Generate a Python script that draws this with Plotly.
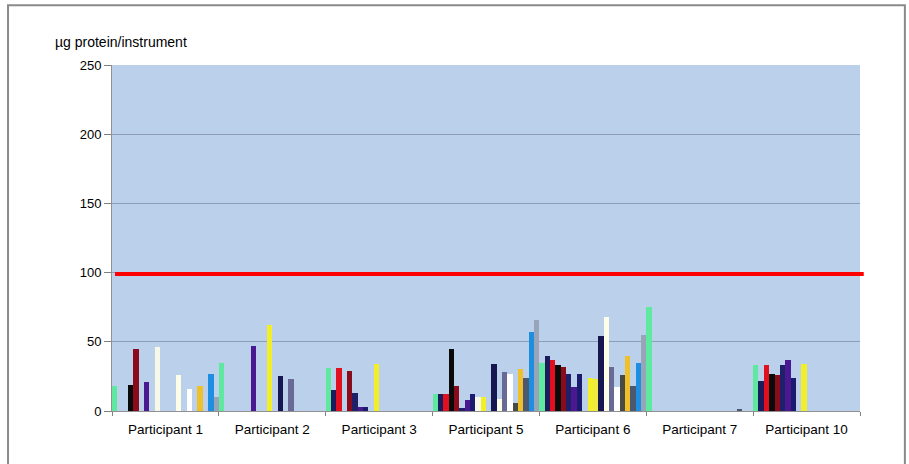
import plotly.graph_objects as go

categories = ["Participant 1", "Participant 2", "Participant 3", "Participant 5",
              "Participant 6", "Participant 7", "Participant 10"]

# 20 instrument series (values in µg protein/instrument), None = no bar
s00 = [18, 35, 31, 12, 35, 75, 33]
s01 = [None, None, 15, 12, 40, None, 22]
s02 = [None, None, 31, 12, 37, None, 33]
s03 = [19, None, None, 45, 33, None, 27]
s04 = [45, None, 29, 18, 32, None, 26]
s05 = [None, None, 13, 2, 27, None, 33]
s06 = [21, 47, 3, 8, 17, None, 37]
s07 = [None, None, 3, 12, 27, None, 24]
s08 = [46, None, None, 10, None, None, None]
s09 = [None, 62, 34, 10, 24, None, 34]
s10 = [None, None, None, None, 23, None, None]
s11 = [None, 25, None, 34, 54, None, None]
s12 = [26, None, None, 9, 68, None, None]
s13 = [None, 23, None, 28, 32, None, None]
s14 = [16, None, None, 27, 17, None, None]
s15 = [None, None, None, 6, 26, None, None]
s16 = [18, None, None, 30, 40, None, None]
s17 = [None, None, None, 24, 18, 1, None]
s18 = [27, None, None, 57, 35, None, None]
s19 = [10, None, None, 66, 55, None, None]

series = [s00, s01, s02, s03, s04, s05, s06, s07, s08, s09,
          s10, s11, s12, s13, s14, s15, s16, s17, s18, s19]

colors = ["#5fe8a0", "#1c1c5c", "#e01020", "#0a0a0a", "#8a0c1c",
          "#202068", "#4a1890", "#1a1a6e", "#f8f8e8", "#f2ee2a",
          "#f0ea40", "#161650", "#fdfde8", "#6a6a96", "#ffffff",
          "#4a4a44", "#f0c02a", "#4c5870", "#1e8ee0", "#98a4b8"]

y_ticks = [0, 50, 100, 150, 200, 250]
threshold = 99
y_title = "µg protein/instrument"

fig = go.Figure()
for i, vals in enumerate(series):
    fig.add_trace(go.Bar(x=categories, y=vals, name=f"Instrument {i+1}",
                         marker=dict(color=colors[i], line=dict(width=0)),
                         showlegend=False))

FONT = "Liberation Sans, Arial, sans-serif"

fig.update_layout(
    width=909, height=464,
    margin=dict(l=112, r=49, t=65, b=53),
    paper_bgcolor="white",
    plot_bgcolor="#bbd0ea",
    barmode="group", bargap=0, bargroupgap=0,
    font=dict(family=FONT, size=13, color="black"),
    xaxis=dict(type="category", tickson="boundaries", ticks="outside",
               ticklen=4, tickcolor="#808080", showline=True,
               linecolor="#909090", linewidth=1, showgrid=False,
               ticklabelstandoff=6, tickfont=dict(size=13.5)),
    yaxis=dict(range=[0, 250], tickvals=y_ticks, ticks="outside", ticklen=7,
               tickcolor="#808080", showline=True, linecolor="#909090",
               linewidth=1, gridcolor="#8d9db6", gridwidth=1,
               zeroline=False, tickfont=dict(size=13)),
    shapes=[
        dict(type="line", xref="paper", yref="y", x0=0.004, x1=1.005,
             y0=threshold, y1=threshold, line=dict(color="#ff0000", width=4)),
        dict(type="rect", xref="paper", yref="paper", x0=-0.139, x1=1.060,
             y0=-0.2, y1=1.173, line=dict(color="#8a8a8a", width=2),
             layer="below"),
    ],
    annotations=[
        dict(text=y_title, xref="paper", yref="paper", x=-0.079, y=1.066,
             xanchor="left", yanchor="middle", showarrow=False,
             font=dict(size=14, color="black", family=FONT)),
    ],
)

fig.write_html("out.html", config={"displayModeBar": False},
               post_script="document.body.style.margin='0';")
